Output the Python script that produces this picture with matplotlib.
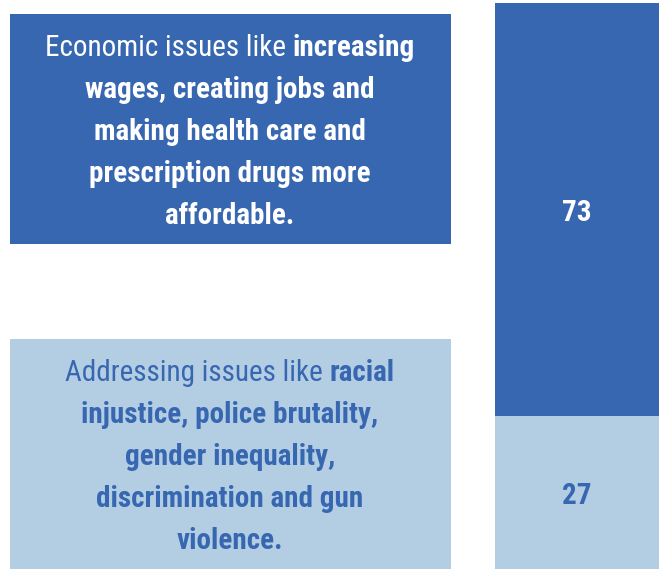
import matplotlib
matplotlib.use("Agg")
import matplotlib.pyplot as plt
from matplotlib import font_manager
from matplotlib.patches import Rectangle

# Data
categories = ["Economic issues", "Social issues"]
shares = [73, 27]
labels_top = [
    [("Economic issues like ", "normal"), ("increasing", "bold")],
    [("wages, creating jobs and", "bold")],
    [("making health care and", "bold")],
    [("prescription drugs more", "bold")],
    [("affordable.", "bold")],
]
labels_bottom = [
    [("Addressing issues like ", "normal"), ("racial", "bold")],
    [("injustice, police brutality,", "bold")],
    [("gender inequality,", "bold")],
    [("discrimination and gun", "bold")],
    [("violence.", "bold")],
]

dark = "#3867B1"
light = "#B3CDE3"

# pick a narrow sans (Arial Narrow look-alike) if one is installed
names = {f.name for f in font_manager.fontManager.ttflist}
font = "DejaVu Sans"
for cand in ["Liberation Sans Narrow", "Arial Narrow", "Roboto Condensed",
             "Fira Sans Condensed", "Barlow Semi Condensed"]:
    if cand in names:
        font = cand
        break
plt.rcParams["font.family"] = [font, "DejaVu Sans"]
plt.rcParams["font.stretch"] = "condensed"

W, H = 659, 569
fig = plt.figure(figsize=(W / 100, H / 100), dpi=100)

# overlay axes in pixel coords for the text boxes
ax = fig.add_axes([0, 0, 1, 1])
ax.set_xlim(0, W)
ax.set_ylim(H, 0)
ax.axis("off")

ax.add_patch(Rectangle((10, 14), 441, 230, facecolor=dark, edgecolor="none"))
ax.add_patch(Rectangle((10, 339), 441, 235, facecolor=light, edgecolor="none"))

renderer = fig.canvas.get_renderer()
fs = 21


def draw_lines(lines, cx, y0, step, color):
    for i, segs in enumerate(lines):
        y = y0 + i * step
        texts = []
        widths = []
        for s, w in segs:
            t = ax.text(0, y, s, fontsize=fs, fontweight=w, color=color,
                        ha="left", va="center_baseline")
            texts.append(t)
            widths.append(t.get_window_extent(renderer).width)
        x = cx - sum(widths) / 2
        for t, wd in zip(texts, widths):
            t.set_x(x)
            x += wd


draw_lines(labels_top, 230, 45, 42, "white")
draw_lines(labels_bottom, 230, 370, 42, dark)

# stacked bar
bx = fig.add_axes([495 / W, 0, 164 / W, 566 / H])
bx.bar([0], [shares[1]], width=1, color=light)
bx.bar([0], [shares[0]], bottom=[shares[1]], width=1, color=dark)
bx.set_xlim(-0.5, 0.5)
bx.set_ylim(0, 100)
bx.axis("off")
bx.text(0, shares[1] + shares[0] / 2, str(shares[0]), ha="center", va="center_baseline",
        fontsize=fs, fontweight="bold", color="white")
bx.text(0, shares[1] / 2, str(shares[1]), ha="center", va="center_baseline",
        fontsize=fs, fontweight="bold", color=dark)

fig.savefig("out.png", dpi=100)
